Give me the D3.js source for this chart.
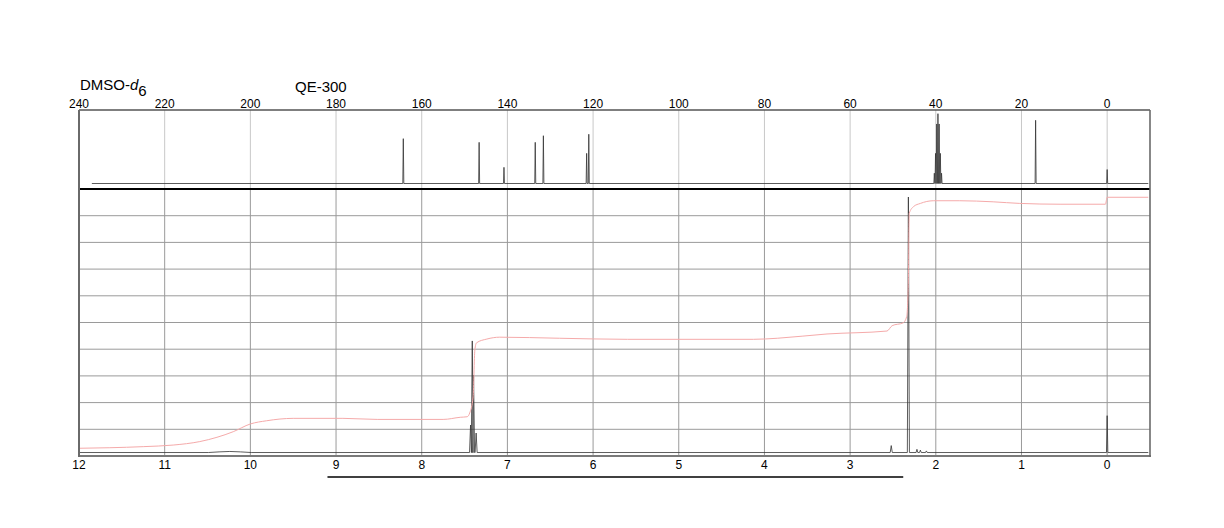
<!DOCTYPE html>
<html>
<head>
<meta charset="utf-8">
<script src="https://cdn.jsdelivr.net/npm/d3@7"></script>
<style>
  html, body { margin: 0; padding: 0; background: #fff; }
  svg { display: block; }
  text { font-family: "Liberation Sans", Arial, Helvetica, sans-serif; fill: #000; }
</style>
</head>
<body>
<svg id="chart" width="1224" height="528"></svg>
<script>
// ---------- data ----------
const solvent = "DMSO-";
const solventItalic = "d";
const solventSub = "6";
const instrument = "QE-300";

const cTicks = [240, 220, 200, 180, 160, 140, 120, 100, 80, 60, 40, 20, 0];
const hTicks = [12, 11, 10, 9, 8, 7, 6, 5, 4, 3, 2, 1, 0];

// 13C peaks: ppm and relative intensity (0-100)
const cPeakPpm = [164.3, 146.6, 140.8, 133.5, 131.6, 121.5, 121.0,
                  40.34, 40.06, 39.78, 39.50, 39.22, 38.94, 38.66, 16.7, 0.0];
const cPeakInt = [61, 56, 22, 56, 65, 41, 67,
                  14, 41, 81, 95, 81, 41, 14, 86, 19];

// 1H peaks: ppm and relative intensity (0-100 of panel height)
const hPeakPpm = [10.24, 7.43, 7.41, 7.395, 7.365, 2.52, 2.32, 2.22, 2.18, 2.11, 0.0];
const hPeakInt = [0.4, 10.3, 41.8, 29.0, 7.3, 2.6, 95.7, 1.2, 0.9, 0.6, 13.8];
const hPeakWidth = [0.25, 0.012, 0.012, 0.012, 0.012, 0.012, 0.012, 0.01, 0.01, 0.01, 0.008];

// integral trace: ppm and height (0-100 of panel height)
const intPpm = [11.99, 11.64, 11.25, 10.90, 10.59, 10.39, 10.20, 10.00, 9.81, 9.50, 8.92, 8.52,
                7.75, 7.55, 7.47, 7.44, 7.40, 7.38, 7.36, 7.24, 7.09, 6.39, 5.60, 4.13, 3.85,
                3.27, 2.57, 2.51, 2.38, 2.34, 2.32, 2.31, 2.26, 2.18, 2.03, 1.72, 1.33, 1.02,
                0.55, 0.02, 0.00, -0.48];
const intVal = [2.9, 3.1, 3.5, 4.1, 5.4, 7.0, 9.1, 12.0, 13.2, 14.1, 14.1, 13.7,
                13.7, 14.5, 14.7, 16.1, 22.2, 39.7, 42.4, 43.8, 44.5, 44.1, 43.7, 43.7, 44.1,
                45.7, 46.8, 48.8, 49.9, 52.2, 65.9, 90.9, 93.4, 94.6, 95.6, 95.6, 95.2, 94.6,
                94.3, 94.3, 96.9, 96.9];

const hGridValues = [10, 20, 30, 40, 50, 60, 70, 80, 90];
const markerRange = [9.1, 2.38];

// ---------- layout ----------
const svg = d3.select("#chart");
const L = 79, R = 1150;
const topY0 = 110, topY1 = 189;
const botY0 = 189, botY1 = 456;

const xC = d3.scaleLinear().domain([240, -10]).range([L, R]);
const xH = d3.scaleLinear().domain([12, -0.5]).range([L, R]);
const yC = d3.scaleLinear().domain([0, 100]).range([183.5, 110]);
const yH = d3.scaleLinear().domain([0, 100]).range([botY1, botY0]);
const cBase = 0;
const hBase = 1.3;

// ---------- top panel grid ----------
svg.append("g").selectAll("line")
  .data(cTicks.filter(d => d < 240))
  .join("line")
  .attr("x1", d => xC(d)).attr("x2", d => xC(d))
  .attr("y1", topY0).attr("y2", topY1)
  .attr("stroke", "#c8c8c8").attr("stroke-width", 1);

// ---------- bottom panel grid ----------
svg.append("g").selectAll("line")
  .data(hTicks.filter(d => d < 12))
  .join("line")
  .attr("x1", d => xH(d)).attr("x2", d => xH(d))
  .attr("y1", botY0).attr("y2", botY1)
  .attr("stroke", "#9a9a9a").attr("stroke-width", 1);
svg.append("g").selectAll("line")
  .data(hGridValues)
  .join("line")
  .attr("x1", L).attr("x2", R)
  .attr("y1", d => yH(d)).attr("y2", d => yH(d))
  .attr("stroke", "#9a9a9a").attr("stroke-width", 1);

// ---------- 13C spectrum ----------
const cStart = 237, cEnd = -9.6;
const cw = 0.12;
const cPts = [[cStart, cBase]];
cPeakPpm.map((p, i) => ({p, v: cPeakInt[i]}))
  .sort((a, b) => b.p - a.p)
  .forEach(d => { cPts.push([d.p + cw, cBase], [d.p, d.v], [d.p - cw, cBase]); });
cPts.push([cEnd, cBase]);
svg.append("path")
  .attr("d", d3.line().x(d => xC(d[0])).y(d => yC(d[1]))(cPts))
  .attr("fill", "none").attr("stroke", "#333").attr("stroke-width", 0.8);

// ---------- 1H spectrum ----------
const hPts = [[12, hBase]];
hPeakPpm.map((p, i) => ({p, v: hPeakInt[i], w: hPeakWidth[i]}))
  .sort((a, b) => b.p - a.p)
  .forEach(d => {
    if (d.w > 0.1) {
      hPts.push([d.p + d.w, hBase], [d.p + d.w / 2, hBase + d.v * 0.6], [d.p, hBase + d.v], [d.p - d.w / 2, hBase + d.v * 0.6], [d.p - d.w, hBase]);
    } else {
      hPts.push([d.p + d.w, hBase], [d.p, hBase + d.v], [d.p - d.w, hBase]);
    }
  });
hPts.push([-0.48, hBase]);
svg.append("path")
  .attr("d", d3.line().x(d => xH(d[0])).y(d => yH(d[1]))(hPts))
  .attr("fill", "none").attr("stroke", "#333").attr("stroke-width", 0.8);

// ---------- integral ----------
svg.append("path")
  .attr("d", d3.line().x((d, i) => xH(intPpm[i])).y((d, i) => yH(intVal[i])).curve(d3.curveMonotoneX)(intPpm))
  .attr("fill", "none").attr("stroke", "#f5aaaa").attr("stroke-width", 1);

// ---------- frame ----------
svg.append("line").attr("x1", L).attr("x2", R).attr("y1", topY0).attr("y2", topY0)
  .attr("stroke", "#555").attr("stroke-width", 1.5);
svg.append("line").attr("x1", L).attr("x2", R).attr("y1", topY1).attr("y2", topY1)
  .attr("stroke", "#000").attr("stroke-width", 2);
svg.append("line").attr("x1", L - 1).attr("x2", R + 1).attr("y1", botY1).attr("y2", botY1)
  .attr("stroke", "#7a7a7a").attr("stroke-width", 2);
svg.append("line").attr("x1", L).attr("x2", L).attr("y1", topY0).attr("y2", botY1 + 1)
  .attr("stroke", "#6a6a6a").attr("stroke-width", 2);
svg.append("line").attr("x1", R).attr("x2", R).attr("y1", topY0).attr("y2", botY1 + 1)
  .attr("stroke", "#6a6a6a").attr("stroke-width", 1.6);

// ---------- tick labels ----------
svg.append("g").selectAll("text")
  .data(cTicks).join("text")
  .attr("x", d => xC(d)).attr("y", 108)
  .attr("text-anchor", "middle").attr("font-size", 12)
  .text(d => d);
svg.append("g").selectAll("text")
  .data(hTicks).join("text")
  .attr("x", d => xH(d)).attr("y", 469)
  .attr("text-anchor", "middle").attr("font-size", 12)
  .text(d => d);

// ---------- marker line under axis ----------
svg.append("line")
  .attr("x1", xH(markerRange[0])).attr("x2", xH(markerRange[1]))
  .attr("y1", 477).attr("y2", 477)
  .attr("stroke", "#000").attr("stroke-width", 1.5);

// ---------- titles ----------
const t = svg.append("text").attr("x", 80).attr("y", 89.5).attr("font-size", 15);
t.append("tspan").text(solvent);
t.append("tspan").attr("font-style", "italic").text(solventItalic);
t.append("tspan").attr("dy", 6.5).text(solventSub);
svg.append("text").attr("x", 295).attr("y", 91.5).attr("font-size", 15).text(instrument);
</script>
</body>
</html>
